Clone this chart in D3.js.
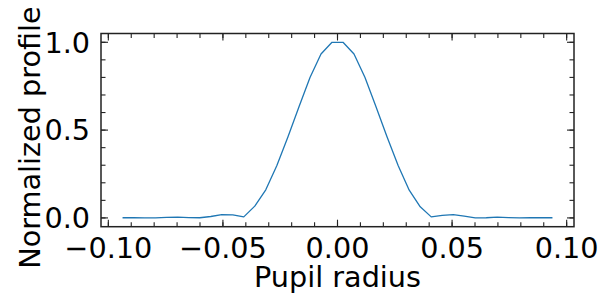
<!DOCTYPE html>
<html>
<head>
<meta charset="utf-8">
<script src="https://cdn.jsdelivr.net/npm/d3@7"></script>
<style>
  body { margin: 0; background: #fff; }
  svg { display: block; }
  text { font-family: "DejaVu Sans", sans-serif; fill: #000; }
</style>
</head>
<body>
<div class="container"></div>
<script>
// pupil radius samples (40 points)
var radius = [
  -0.0938, -0.0890, -0.0842, -0.0794, -0.0746, -0.0697, -0.0649, -0.0601, -0.0553, -0.0505,
  -0.0457, -0.0409, -0.0361, -0.0313, -0.0265, -0.0216, -0.0168, -0.0120, -0.0072, -0.0024,
   0.0024,  0.0072,  0.0120,  0.0168,  0.0216,  0.0265,  0.0313,  0.0361,  0.0409,  0.0457,
   0.0505,  0.0553,  0.0601,  0.0649,  0.0697,  0.0746,  0.0794,  0.0842,  0.0890,  0.0938
];
// normalized profile
var profile = [
  0.001, 0.001, 0.000, 0.000, 0.003, 0.004, 0.002, 0.001, 0.008, 0.019,
  0.017, 0.006, 0.067, 0.160, 0.297, 0.462, 0.633, 0.800, 0.933, 1.000,
  1.000, 0.933, 0.800, 0.633, 0.462, 0.297, 0.158, 0.063, 0.006, 0.015,
  0.019, 0.010, 0.000, 0.001, 0.004, 0.002, 0.000, 0.001, 0.001, 0.001
];
var xTicks = [-0.10, -0.05, 0.00, 0.05, 0.10];
var yTicks = [0.0, 0.5, 1.0];

var width = 610, height = 297;
var mLeft = 101, mRight = 574, mTop = 33.5, mBottom = 226.7;
var fontSize = 28.7;

var svg = d3.select('.container')
  .append('svg')
  .attr('width', width)
  .attr('height', height);

var x = d3.scaleLinear().domain([-0.1032, 0.1032]).range([mLeft, mRight]);
var y = d3.scaleLinear().domain([-0.05, 1.05]).range([mBottom, mTop]);

var xMinor = d3.range(-10, 11).map(function(d) { return d / 100; });
var yMinor = d3.range(0, 11).map(function(d) { return d / 10; });

var fmtX = function(d) { return d3.format('.2f')(d).replace('-', '\u2212'); };
var fmtY = d3.format('.1f');

var majorLen = 7, minorLen = 4.5, stroke = '#222';

// ticks pointing inward on all four sides
function ticks(g, side, scale, vals, len) {
  g.selectAll(null)
    .data(vals)
    .enter()
    .append('line')
    .attr('stroke', stroke)
    .attr('stroke-width', 1.1)
    .each(function(d) {
      var p = scale(d), s = d3.select(this);
      if (side === 'bottom') s.attr('x1', p).attr('x2', p).attr('y1', mBottom).attr('y2', mBottom - len);
      if (side === 'top') s.attr('x1', p).attr('x2', p).attr('y1', mTop).attr('y2', mTop + len);
      if (side === 'left') s.attr('y1', p).attr('y2', p).attr('x1', mLeft).attr('x2', mLeft + len);
      if (side === 'right') s.attr('y1', p).attr('y2', p).attr('x1', mRight).attr('x2', mRight - len);
    });
}

var tg = svg.append('g').attr('class', 'ticks');
['bottom', 'top'].forEach(function(a) {
  ticks(tg, a, x, xMinor, minorLen);
  ticks(tg, a, x, xTicks, majorLen);
});
['left', 'right'].forEach(function(a) {
  ticks(tg, a, y, yMinor, minorLen);
  ticks(tg, a, y, yTicks, majorLen);
});

// profile line
var line = d3.line()
  .x(function(d, i) { return x(radius[i]); })
  .y(function(d) { return y(d); });

svg.append('path')
  .datum(profile)
  .attr('d', line)
  .attr('fill', 'none')
  .attr('stroke', '#1f77b4')
  .attr('stroke-width', 1.3)
  .attr('stroke-linejoin', 'round');

// frame
svg.append('rect')
  .attr('x', mLeft)
  .attr('y', mTop)
  .attr('width', mRight - mLeft)
  .attr('height', mBottom - mTop)
  .attr('fill', 'none')
  .attr('stroke', stroke)
  .attr('stroke-width', 1.5);

// tick labels
svg.append('g').selectAll('text')
  .data(xTicks)
  .enter()
  .append('text')
  .attr('x', function(d) { return x(d); })
  .attr('y', 258)
  .attr('text-anchor', 'middle')
  .style('font-size', fontSize + 'px')
  .text(fmtX);

svg.append('g').selectAll('text')
  .data(yTicks)
  .enter()
  .append('text')
  .attr('x', 90)
  .attr('y', function(d) { return y(d) + 10.3; })
  .attr('text-anchor', 'end')
  .style('font-size', fontSize + 'px')
  .text(fmtY);

// axis labels
svg.append('text')
  .attr('x', (mLeft + mRight) / 2)
  .attr('y', 287)
  .attr('text-anchor', 'middle')
  .style('font-size', fontSize + 'px')
  .text('Pupil radius');

svg.append('text')
  .attr('transform', 'translate(39.5,' + 137.5 + ') rotate(-90)')
  .attr('text-anchor', 'middle')
  .style('font-size', fontSize + 'px')
  .text('Normalized profile');
</script>
</body>
</html>
